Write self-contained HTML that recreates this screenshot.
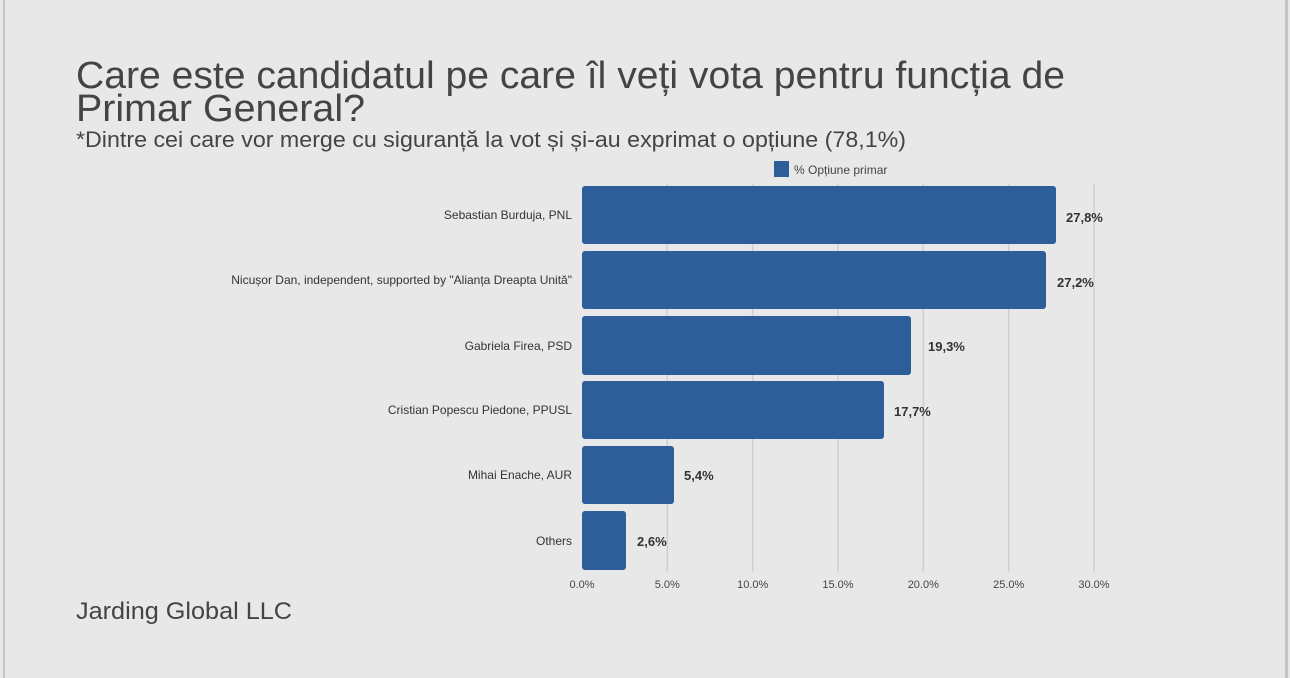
<!DOCTYPE html>
<html><head><meta charset="utf-8"><style>
html,body{margin:0;padding:0;background:#e8e8e8;}
svg{display:block;font-family:"Liberation Sans",sans-serif;}
</style></head><body>
<svg width="1290" height="678" viewBox="0 0 1290 678" xmlns="http://www.w3.org/2000/svg">
<rect width="1290" height="678" fill="#e8e8e8"/>
<rect x="3" y="0" width="2" height="678" fill="#c4c4c4"/>
<rect x="1285" y="0" width="3" height="678" fill="#c4c4c4"/>
<g fill="#444">
<text x="76" y="88" font-size="38" textLength="989" lengthAdjust="spacingAndGlyphs">Care este candidatul pe care îl veți vota pentru funcția de</text>
<text x="76" y="121" font-size="38" textLength="289" lengthAdjust="spacingAndGlyphs">Primar General?</text>
<text x="76" y="147" font-size="22" textLength="830" lengthAdjust="spacingAndGlyphs">*Dintre cei care vor merge cu siguranță la vot și și-au exprimat o opțiune (78,1%)</text>
<text x="76" y="619" font-size="24" textLength="216" lengthAdjust="spacingAndGlyphs">Jarding Global LLC</text>
</g>
<rect x="774" y="161" width="15" height="16" fill="#2e5e99"/>
<text x="794" y="174" font-size="12" fill="#444">% Opțiune primar</text>
<g stroke="#cfcfcf" stroke-width="1.5">
<line x1="667.3" y1="184" x2="667.3" y2="572"/>
<line x1="752.7" y1="184" x2="752.7" y2="572"/>
<line x1="838" y1="184" x2="838" y2="572"/>
<line x1="923.3" y1="184" x2="923.3" y2="572"/>
<line x1="1008.7" y1="184" x2="1008.7" y2="572"/>
<line x1="1094" y1="184" x2="1094" y2="572"/>
</g>
<g fill="#2e5e99">
<rect x="582" y="186" width="474" height="58" rx="3"/>
<rect x="582" y="251" width="464" height="58" rx="3"/>
<rect x="582" y="316" width="329" height="59" rx="3"/>
<rect x="582" y="381" width="302" height="58" rx="3"/>
<rect x="582" y="446" width="92" height="58" rx="3"/>
<rect x="582" y="511" width="44" height="59" rx="3"/>
</g>
<g font-size="12" fill="#333" text-anchor="end">
<text x="572" y="219">Sebastian Burduja, PNL</text>
<text x="572" y="284">Nicușor Dan, independent, supported by "Alianța Dreapta Unită"</text>
<text x="572" y="350">Gabriela Firea, PSD</text>
<text x="572" y="414">Cristian Popescu Piedone, PPUSL</text>
<text x="572" y="479">Mihai Enache, AUR</text>
<text x="572" y="545">Others</text>
</g>
<g font-size="13" font-weight="bold" fill="#333">
<text x="1066" y="222">27,8%</text>
<text x="1057" y="287">27,2%</text>
<text x="928" y="351">19,3%</text>
<text x="894" y="416">17,7%</text>
<text x="684" y="480">5,4%</text>
<text x="637" y="546">2,6%</text>
</g>
<g font-size="11" fill="#444" text-anchor="middle">
<text x="582" y="588">0.0%</text>
<text x="667.3" y="588">5.0%</text>
<text x="752.7" y="588">10.0%</text>
<text x="838" y="588">15.0%</text>
<text x="923.3" y="588">20.0%</text>
<text x="1008.7" y="588">25.0%</text>
<text x="1094" y="588">30.0%</text>
</g>
</svg>
</body></html>
